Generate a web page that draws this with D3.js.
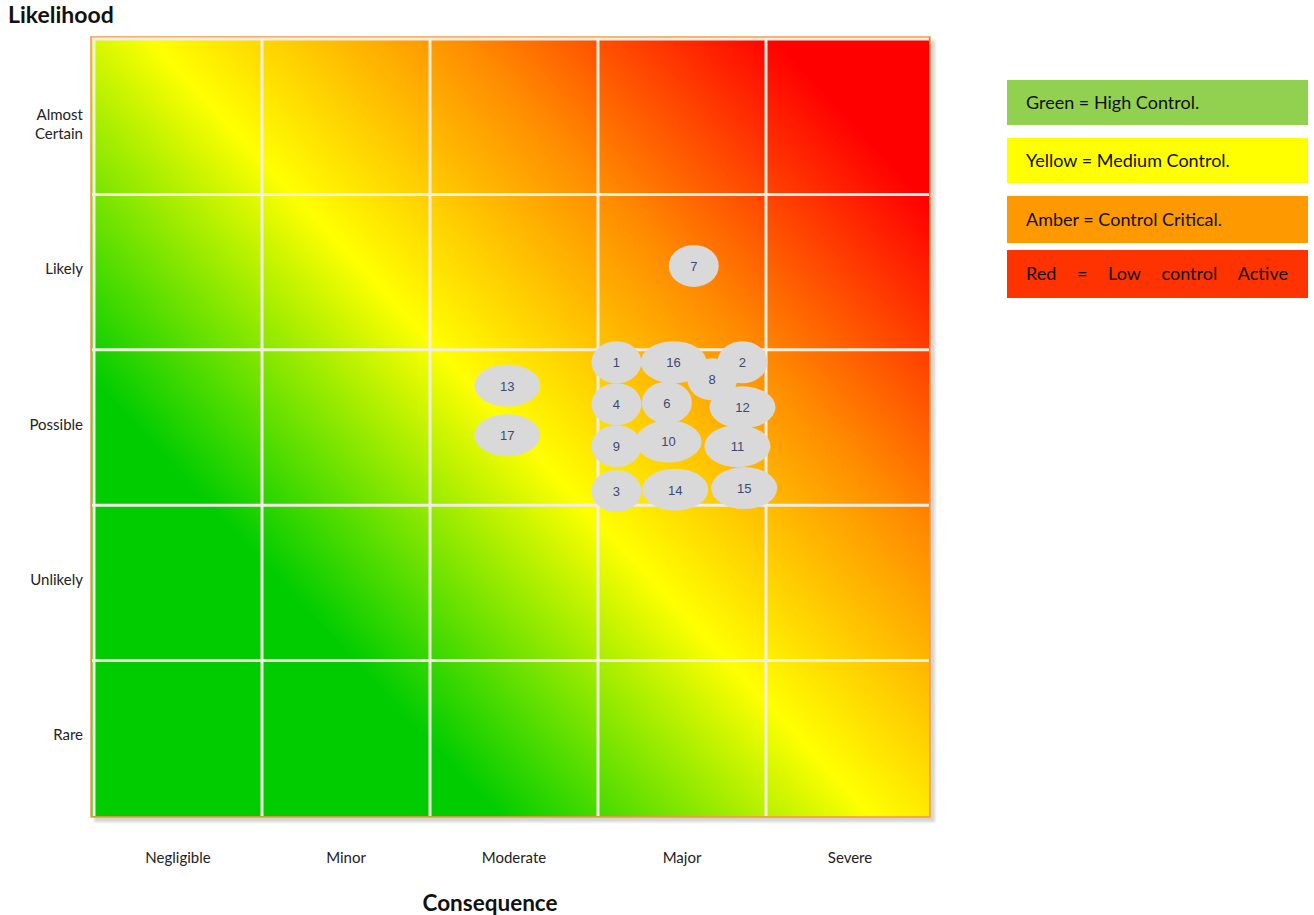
<!DOCTYPE html>
<html>
<head>
<meta charset="utf-8">
<script src="https://cdn.jsdelivr.net/npm/d3@7"></script>
<style>
  html, body { margin: 0; padding: 0; background: #fff; }
  #chart { width: 1314px; height: 915px; }
</style>
</head>
<body>
<div id="chart"></div>
<script>
// categories
var consequences = ['Negligible', 'Minor', 'Moderate', 'Major', 'Severe'];
var likelihoods = ['Almost Certain', 'Likely', 'Possible', 'Unlikely', 'Rare'];

// risks: id, consequence score (0-5), likelihood score (0-5)
var riskIds = ['7', '13', '17', '8', '1', '16', '2', '4', '6', '12', '9', '10', '11', '3', '14', '15'];
var riskConsequence = [3.57, 2.46, 2.46, 3.68, 3.11, 3.45, 3.86, 3.11, 3.41, 3.86, 3.11, 3.42, 3.83, 3.11, 3.46, 3.87];
var riskLikelihood = [3.54, 2.77, 2.45, 2.81, 2.92, 2.92, 2.92, 2.65, 2.66, 2.63, 2.38, 2.41, 2.38, 2.09, 2.10, 2.11];

// legend
var legendLabels = ['Green = High Control.', 'Yellow = Medium Control.', 'Amber = Control Critical.', 'Red = Low control Active'];
var legendColors = ['#92d050', '#ffff00', '#ff9900', '#ff3300'];

var FONT = 'Lato, "Open Sans", sans-serif';
var W = 1314, H = 915;
var svg = d3.select('#chart').append('svg').attr('width', W).attr('height', H);
var defs = svg.append('defs');

var gridL = 94, gridR = 934, gridT = 39, gridB = 816;
var plotX0 = 91, plotX1 = 930, plotY0 = 37, plotY1 = 817;

var xBand = d3.scaleBand().domain(consequences).range([gridL, gridR]);
var yBand = d3.scaleBand().domain(likelihoods).range([gridT, gridB]);
var x = d3.scaleLinear().domain([0, 5]).range([gridL, gridR]);
var y = d3.scaleLinear().domain([0, 5]).range([gridB, gridT]);

// gradient (green bottom-left -> red top-right)
var grad = defs.append('linearGradient').attr('id', 'heat').attr('gradientUnits', 'userSpaceOnUse')
  .attr('x1', plotX0).attr('y1', plotY1).attr('x2', plotX1).attr('y2', plotY0);
[[0, '#00cc00'], [0.26, '#00cc00'], [0.5, '#ffff00'], [0.7, '#ff8c00'], [0.9, '#ff0000'], [1, '#ff0000']]
  .forEach(function(s) { grad.append('stop').attr('offset', s[0]).attr('stop-color', s[1]); });

var blur = defs.append('filter').attr('id', 'shadow').attr('x', -0.05).attr('y', -0.05).attr('width', 1.1).attr('height', 1.1);
blur.append('feGaussianBlur').attr('stdDeviation', 1.5);

// shadow + plot area
svg.append('rect').attr('x', plotX0 + 3).attr('y', plotY0 + 3)
  .attr('width', plotX1 - plotX0 + 2).attr('height', plotY1 - plotY0 + 2)
  .attr('fill', '#d4d4d0').attr('filter', 'url(#shadow)');
svg.append('rect').attr('x', plotX0).attr('y', plotY0)
  .attr('width', plotX1 - plotX0).attr('height', plotY1 - plotY0)
  .attr('fill', 'url(#heat)').attr('stroke', '#f79646').attr('stroke-width', 1.5);

// grid
var grid = svg.append('g').attr('stroke', '#f2eee2').attr('stroke-width', 3);
grid.selectAll('line.v').data(consequences).join('line').attr('class', 'v')
  .attr('x1', function(d) { return xBand(d); }).attr('x2', function(d) { return xBand(d); })
  .attr('y1', plotY0 + 1).attr('y2', plotY1 - 1);
grid.selectAll('line.h').data(likelihoods).join('line').attr('class', 'h')
  .attr('y1', function(d) { return yBand(d); }).attr('y2', function(d) { return yBand(d); })
  .attr('x1', plotX0 + 1).attr('x2', plotX1 - 1);

// axis labels
svg.append('g').selectAll('text').data(consequences).join('text')
  .attr('x', function(d) { return xBand(d) + xBand.bandwidth() / 2; })
  .attr('y', 863).attr('text-anchor', 'middle')
  .attr('font-family', FONT).attr('font-size', '15px').attr('fill', '#222')
  .text(function(d) { return d; });

var yl = svg.append('g').selectAll('text').data(likelihoods).join('text')
  .attr('text-anchor', 'end').attr('font-family', FONT).attr('font-size', '15px').attr('fill', '#222')
  .attr('transform', function(d) { return 'translate(83,' + (yBand(d) + yBand.bandwidth() / 2 + 2) + ')'; });
yl.each(function(d) {
  var words = d.split(' ');
  var t = d3.select(this);
  if (words.length > 1) {
    words.forEach(function(w, i) {
      t.append('tspan').attr('x', 0).attr('dy', i === 0 ? 1 : 19).text(w);
    });
  } else {
    t.text(d);
  }
});

svg.append('text').attr('x', 8).attr('y', 23).attr('font-family', FONT).attr('font-weight', 700)
  .attr('font-size', '23px').attr('fill', '#111').text('Likelihood');
svg.append('text').attr('x', 490).attr('y', 911).attr('text-anchor', 'middle').attr('font-family', FONT)
  .attr('font-weight', 700).attr('font-size', '22.5px').attr('fill', '#111').text('Consequence');

// risk bubbles
var risks = riskIds.map(function(id, i) {
  return { id: id, c: riskConsequence[i], l: riskLikelihood[i] };
});
var gB = svg.append('g');
gB.selectAll('ellipse').data(risks).join('ellipse')
  .attr('cx', function(d) { return x(d.c); }).attr('cy', function(d) { return y(d.l); })
  .attr('rx', function(d) { return d.id.length > 1 ? 33 : 25; }).attr('ry', 21)
  .attr('fill', '#d9d9d9');
gB.selectAll('text').data(risks).join('text')
  .attr('x', function(d) { return x(d.c); }).attr('y', function(d) { return y(d.l) + 5; })
  .attr('text-anchor', 'middle').attr('font-family', '"Liberation Sans", Arial, sans-serif')
  .attr('font-size', '13px').attr('fill', '#3f4870')
  .text(function(d) { return d.id; });

// legend
var legY = d3.scaleOrdinal().domain(legendLabels).range([80, 138, 196, 250]);
var legH = [45, 45, 47, 48];
var lg = svg.append('g');
legendLabels.forEach(function(lab, i) {
  lg.append('rect').attr('x', 1007).attr('y', legY(lab)).attr('width', 301).attr('height', legH[i])
    .attr('fill', legendColors[i]);
  var ty = legY(lab) + legH[i] / 2 + 6;
  if (i < 3) {
    lg.append('text').attr('x', 1026).attr('y', ty).attr('font-family', FONT).attr('font-size', '18px')
      .attr('fill', '#111').text(lab);
  } else {
    // justified line
    var words = lab.split(' ');
    var ts = words.map(function(w) {
      return lg.append('text').attr('y', ty).attr('font-family', FONT).attr('font-size', '18px')
        .attr('fill', '#111').text(w);
    });
    var widths = ts.map(function(t) { return t.node().getComputedTextLength(); });
    var total = d3.sum(widths);
    var gap = (1288 - 1026 - total) / (words.length - 1);
    var cx = 1026;
    ts.forEach(function(t, j) { t.attr('x', cx); cx += widths[j] + gap; });
  }
});
</script>
</body>
</html>
